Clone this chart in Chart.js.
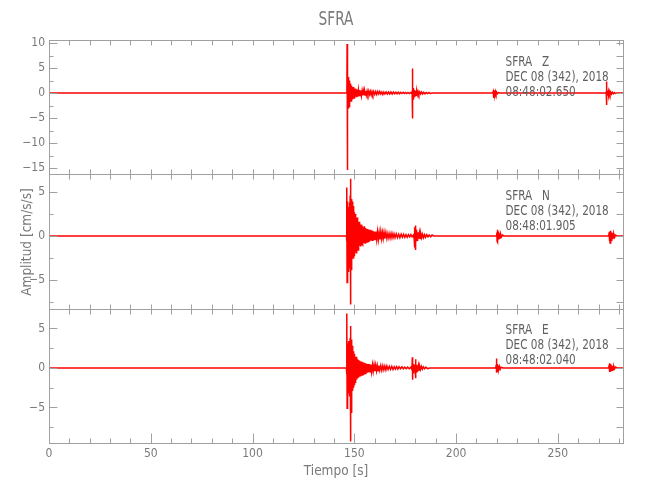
<!DOCTYPE html>
<html>
<head>
<meta charset="utf-8">
<script src="https://cdn.jsdelivr.net/npm/chart.js@4/dist/chart.umd.min.js"></script>
<style>
  body { margin: 0; background: #fff; }
  #wrap { width: 650px; height: 500px; }
</style>
</head>
<body>
<div id="wrap"><canvas id="grafica" width="650" height="500"></canvas></div>
<script>
// trazas: [tiempo (s), amplitud (cm/s/s)]
const traceZ = [
  [0,0],[146.2,0],[146.35,0.3],[146.45,9.8],[146.5,-15.4],[146.58,3.1],[146.66,-2.2],[146.74,2.6],[146.82,-3.4],
  [146.9,3.2],[146.98,-2.8],[147.06,2.4],[147.14,-3.1],[147.22,2.9],[147.3,-2.5],[147.38,2.2],[147.46,-2.7],
  [147.54,2.5],[147.62,-2.0],[147.7,1.9],[147.8,-2.2],[147.9,1.8],[148.0,-1.7],[148.1,1.9],[148.2,-1.5],
  [148.3,1.6],[148.4,-1.6],[148.5,1.4],[148.6,-1.3],[148.7,1.5],[148.8,-1.2],[148.9,1.2],[149.0,-1.3],
  [149.15,1.1],[149.3,-1.0],[149.45,1.2],[149.6,-1.0],[149.75,0.9],[149.9,-1.0],[150.05,0.9],[150.2,-0.8],
  [150.4,0.9],[150.6,-0.7],[150.8,0.8],[151.0,-0.7],[151.2,0.7],[151.4,-0.6],[151.6,0.7],[151.8,-0.6],
  [152.0,0.6],[152.3,-0.5],[152.6,0.6],[152.9,-0.5],[153.2,0.5],[153.5,-0.5],[153.8,0.4],[154.1,-0.5],
  [154.4,0.4],[154.7,-0.4],[155.0,0.5],[155.3,-0.4],[155.6,0.4],[155.9,-0.4],[156.3,0.4],[156.7,-0.3],
  [157.1,0.4],[157.5,-0.3],[157.9,0.3],[158.3,-0.4],[158.7,0.3],[159.1,-0.3],[159.5,0.3],[160,-0.3],
  [160.5,0.3],[161,-0.3],[161.5,0.3],[162,-0.2],[162.5,0.3],[163,-0.2],[163.5,0.2],[164,-0.3],[164.5,0.2],
  [165,-0.2],[165.6,0.2],[166.2,-0.2],[166.8,0.2],[167.4,-0.2],[168,0.2],[168.6,-0.2],[169.2,0.2],
  [169.8,-0.15],[170.4,0.15],[171,-0.15],[171.6,0.15],[172.2,-0.15],[172.8,0.15],[173.4,-0.1],[174,0.15],
  [174.6,-0.1],[175.2,0.1],[175.8,-0.1],[176.4,0.1],[177,-0.1],[177.8,0.1],[178.2,-0.1],[178.4,0.2],
  [178.5,-0.3],[178.57,4.9],[178.65,-5.1],[178.75,0.9],[178.85,-1.2],[178.95,1.0],[179.05,-0.9],[179.2,0.8],
  [179.35,-0.7],[179.5,0.6],[179.65,-0.6],[179.8,0.5],[180.0,-0.5],[180.2,0.4],[180.4,-0.4],[180.7,0.3],
  [181.0,-0.3],[181.3,0.3],[181.7,-0.3],[182.1,0.2],[182.5,-0.2],[183.0,0.2],[183.5,-0.2],[184.1,0.15],
  [184.7,-0.15],[185.3,0.1],[186.0,-0.1],[186.7,0.1],[187.4,-0.1],[188.5,0],
  [218.0,0],[218.25,0.3],[218.4,0.6],[218.5,-1.0],[218.6,0.5],[218.75,-0.5],[218.9,0.4],[219.1,-0.3],
  [219.3,0.3],[219.6,-0.2],[219.9,0.2],[220.3,-0.15],[220.8,0.1],[221.5,0],
  [273.5,0],[273.75,0.2],[273.85,2.3],[273.95,-2.4],[274.1,0.5],[274.25,-0.4],[274.4,0.4],[274.6,-0.4],
  [274.8,0.3],[275.0,-0.3],[275.3,0.3],[275.6,-0.25],[275.9,0.2],[276.3,-0.2],[276.7,0.15],[277.2,-0.15],
  [277.7,0.1],[278.3,-0.1],[279,0],[282,0]
];
const traceN = [
  [0,0],[146.1,0],[146.2,0.4],[146.3,-0.6],[146.38,5.5],[146.45,-5.3],[146.55,2.8],[146.65,-3.4],[146.75,3.9],
  [146.85,-2.6],[146.95,3.1],[147.05,-4.1],[147.15,2.4],[147.25,-2.9],[147.35,3.3],[147.45,-3.6],[147.55,2.6],
  [147.65,-2.3],[147.75,3.8],[147.85,-3.1],[147.95,4.6],[148.05,-4.4],[148.15,6.5],[148.25,-7.8],[148.35,4.9],
  [148.45,-3.8],[148.55,4.2],[148.65,-3.3],[148.75,3.6],[148.85,-2.9],[148.95,3.9],[149.05,-2.6],[149.15,3.2],
  [149.25,-2.2],[149.35,3.0],[149.45,-2.5],[149.55,2.6],[149.65,-2.0],[149.75,3.4],[149.85,-1.9],[149.95,2.7],
  [150.05,-2.3],[150.2,2.3],[150.35,-1.8],[150.5,2.5],[150.65,-1.6],[150.8,2.0],[150.95,-1.9],[151.1,1.8],
  [151.25,-1.5],[151.4,2.1],[151.55,-1.4],[151.7,1.7],[151.85,-1.6],[152.0,1.5],[152.2,-1.2],[152.4,1.6],
  [152.6,-1.1],[152.8,1.3],[153.0,-1.2],[153.2,1.2],[153.4,-1.0],[153.6,1.3],[153.8,-0.9],[154.0,1.1],
  [154.25,-1.0],[154.5,1.0],[154.75,-0.8],[155.0,1.1],[155.25,-0.8],[155.5,0.9],[155.75,-0.7],[156.0,0.8],
  [156.3,-0.7],[156.6,0.8],[156.9,-0.6],[157.2,0.7],[157.5,-0.6],[157.8,0.7],[158.1,-0.5],[158.4,0.6],
  [158.7,-0.5],[159.0,0.6],[159.4,-0.5],[159.8,0.5],[160.2,-0.4],[160.6,0.5],[161.0,-0.4],[161.4,0.5],
  [161.8,-0.4],[162.2,0.4],[162.6,-0.4],[163.0,0.5],[163.4,-0.3],[163.8,0.4],[164.2,-0.3],[164.6,0.4],
  [165.0,-0.3],[165.5,0.4],[166.0,-0.3],[166.5,0.3],[167.0,-0.25],[167.5,0.3],[168.0,-0.25],[168.5,0.3],
  [169.0,-0.2],[169.5,0.25],[170.0,-0.2],[170.6,0.25],[171.2,-0.2],[171.8,0.2],[172.4,-0.2],[173.0,0.2],
  [173.6,-0.15],[174.2,0.2],[174.8,-0.15],[175.4,0.15],[176.0,-0.15],[176.6,0.15],[177.2,-0.1],[177.8,0.15],
  [178.4,-0.1],[179.0,0.1],[179.4,-0.3],[179.55,1.0],[179.65,-1.3],[179.75,0.8],[179.85,-0.9],[179.95,1.2],
  [180.05,-1.6],[180.15,1.1],[180.25,-0.8],[180.35,0.7],[180.5,-0.6],[180.65,0.6],[180.8,-0.5],[181.0,0.4],
  [181.2,-0.4],[181.45,0.4],[181.7,-0.3],[182.0,0.3],[182.3,-0.3],[182.7,0.25],[183.1,-0.2],[183.5,0.2],
  [184.0,-0.2],[184.5,0.15],[185.0,-0.15],[185.6,0.15],[186.2,-0.1],[186.8,0.1],[187.5,-0.1],[188.2,0.1],[189,0],
  [219.8,0],[220.0,0.4],[220.15,-0.6],[220.3,0.7],[220.45,-0.7],[220.6,0.5],[220.75,-0.4],[220.9,0.4],
  [221.1,-0.3],[221.3,0.3],[221.6,-0.2],[221.9,0.2],[222.3,-0.1],[222.8,0.1],[223.5,0],
  [275.0,0],[275.2,0.4],[275.35,-0.6],[275.5,0.5],[275.65,-0.8],[275.8,0.6],[275.95,-0.5],[276.1,0.4],
  [276.3,-0.5],[276.5,0.4],[276.7,-0.3],[276.9,0.3],[277.2,-0.2],[277.5,0.2],[277.9,-0.15],[278.3,0.1],[279,0],[282,0]
];
const traceE = [
  [0,0],[146.1,0],[146.2,0.5],[146.3,-0.8],[146.4,6.9],[146.47,-5.1],[146.55,2.4],[146.65,-3.5],[146.75,3.1],
  [146.85,-2.7],[146.95,2.2],[147.05,-3.2],[147.15,2.9],[147.25,-2.4],[147.35,3.4],[147.45,-2.8],[147.55,2.5],
  [147.65,-3.6],[147.75,2.7],[147.85,-3.0],[147.95,3.8],[148.05,-4.2],[148.15,5.3],[148.25,-9.3],[148.35,4.4],
  [148.45,-5.6],[148.55,3.6],[148.65,-3.9],[148.75,3.0],[148.85,-3.1],[148.95,2.8],[149.05,-2.9],[149.15,2.6],
  [149.25,-2.7],[149.35,2.3],[149.45,-2.4],[149.55,2.1],[149.65,-2.3],[149.75,1.9],[149.85,-2.1],[149.95,1.8],
  [150.1,-1.9],[150.25,1.6],[150.4,-1.8],[150.55,1.4],[150.7,-1.7],[150.85,1.4],[151.0,-1.5],[151.15,1.2],
  [151.3,-1.4],[151.5,1.1],[151.7,-1.3],[151.9,1.0],[152.1,-1.2],[152.3,0.9],[152.5,-1.1],[152.7,0.9],
  [152.9,-1.0],[153.1,0.8],[153.35,-0.9],[153.6,0.8],[153.85,-0.9],[154.1,0.7],[154.35,-0.8],[154.6,0.7],
  [154.85,-0.7],[155.1,0.6],[155.4,-0.7],[155.7,0.6],[156.0,-0.6],[156.3,0.5],[156.6,-0.6],[156.9,0.5],
  [157.2,-0.5],[157.5,0.5],[157.8,-0.5],[158.1,0.4],[158.5,-0.5],[158.9,0.4],[159.3,-0.4],[159.7,0.4],
  [160.1,-0.4],[160.5,0.35],[160.9,-0.35],[161.3,0.3],[161.7,-0.35],[162.1,0.3],[162.5,-0.3],[163.0,0.3],
  [163.5,-0.3],[164.0,0.3],[164.5,-0.25],[165.0,0.25],[165.5,-0.25],[166.0,0.25],[166.6,-0.2],[167.2,0.2],
  [167.8,-0.2],[168.4,0.2],[169.0,-0.2],[169.6,0.15],[170.2,-0.15],[170.8,0.15],[171.4,-0.15],[172.0,0.15],
  [172.7,-0.1],[173.4,0.15],[174.1,-0.1],[174.8,0.1],[175.5,-0.1],[176.2,0.1],[177.0,-0.1],[177.8,0.1],
  [178.3,-0.2],[178.5,1.35],[178.6,-1.5],[178.7,0.7],[178.85,-0.6],[179.0,0.5],[179.15,-0.5],[179.3,0.4],
  [179.5,-0.4],[179.7,0.4],[179.9,-0.3],[180.05,1.1],[180.15,-1.3],[180.3,0.6],[180.45,-0.5],[180.6,0.4],
  [180.8,-0.4],[181.0,0.3],[181.25,-0.3],[181.5,0.3],[181.8,-0.25],[182.1,0.2],[182.5,-0.2],[182.9,0.2],
  [183.4,-0.15],[183.9,0.15],[184.5,-0.1],[185.2,0.1],[186,-0.1],[187,0],
  [219.5,0],[219.7,0.4],[219.85,1.2],[219.95,-0.6],[220.1,0.5],[220.25,-0.5],[220.4,0.4],[220.6,-0.3],
  [220.8,0.3],[221.05,-0.2],[221.3,0.2],[221.7,-0.15],[222.1,0.1],[223,0],
  [275.0,0],[275.2,0.4],[275.35,-0.5],[275.5,0.6],[275.65,-0.4],[275.8,0.5],[275.95,-0.4],[276.1,0.4],
  [276.3,-0.3],[276.5,0.3],[276.7,-0.3],[276.9,0.25],[277.2,-0.2],[277.5,0.2],[277.9,-0.1],[278.4,0.1],[279,0],[282,0]
];

const componentes = ['Z', 'N', 'E'];
const rangoZ = [-16.26, 10.6];
const rangoN = [-8.26, 7.0];
const rangoE = [-9.5, 7.5];
const rangoTiempo = [0, 282];
const horaInicio = ['08:48:02.650', '08:48:01.905', '08:48:02.040'];
const fecha = 'DEC 08 (342), 2018';
const estacion = 'SFRA';

const fuente = "'Liberation Sans Narrow', 'DejaVu Sans Condensed', sans-serif";
const gris = '#7a7a7a';
const grisEje = '#a0a0a0';

const trazas = [traceZ, traceN, traceE];
const rangos = [rangoZ, rangoN, rangoE];
const ejesY = ['yZ', 'yN', 'yE'];

const datasets = trazas.map(function (tr, i) {
    return {
        label: estacion + ' ' + componentes[i],
        data: tr.map(p => ({x: p[0], y: p[1]})),
        yAxisID: ejesY[i],
        borderColor: '#ff0000',
        borderWidth: 1.5,
        pointRadius: 0,
        tension: 0,
    };
});

function ejeY(i) {
    return {
        type: 'linear',
        position: 'left',
        stack: 'paneles',
        stackWeight: 1,
        min: rangos[i][0],
        max: rangos[i][1],
        grid: { display: false, drawTicks: false },
        border: { display: false },
        ticks: {
            stepSize: 5,
            autoSkip: false,
            includeBounds: false,
            color: gris,
            padding: 4,
            font: { family: fuente, size: 12 },
            callback: v => v < 0 ? '\u2212' + Math.abs(v) : String(v),
        },
        afterFit: s => { s.width = 49; },
    };
}

// ejes: el ultimo definido queda arriba en la pila
const escalas = {
    x: {
        type: 'linear',
        min: rangoTiempo[0],
        max: rangoTiempo[1],
        grid: { display: false, drawTicks: false },
        border: { display: false },
        ticks: {
            stepSize: 50, autoSkip: false, includeBounds: false, color: gris, padding: 4,
            maxRotation: 0, font: { family: fuente, size: 12 }
        },
        afterFit: s => { s.height = 57; },
    },
    yE: ejeY(2),
    yN: ejeY(1),
    yZ: ejeY(0),
};

function textoEstrecho(ctx, txt, x, y, k) {
    ctx.save();
    ctx.translate(x, y);
    ctx.scale(k, 1);
    ctx.fillText(txt, 0, 0);
    ctx.restore();
}

const marco = {
    id: 'marco',
    afterDatasetsDraw(chart) {
        const ctx = chart.ctx;
        const sx = chart.scales.x;
        const area = chart.chartArea;
        ctx.save();
        ctx.strokeStyle = grisEje;
        ctx.lineWidth = 1;
        ejesY.forEach(function (id, p) {
            const s = chart.scales[id];
            const top = Math.round(s.top) + 0.5;
            const bottom = Math.round(s.bottom) + 0.5;
            const left = Math.round(area.left) + 0.5;
            const right = Math.round(area.right) + 0.5;
            ctx.strokeRect(left, top, right - left, bottom - top);
            ctx.beginPath();
            for (let t = rangoTiempo[0]; t <= rangoTiempo[1]; t += 10) {
                const px = Math.round(sx.getPixelForValue(t)) + 0.5;
                const mayor = t % 50 === 0;
                const lb = (p === 2 && mayor) ? 10 : 5;
                ctx.moveTo(px, bottom); ctx.lineTo(px, bottom - lb);
                ctx.moveTo(px, top); ctx.lineTo(px, top + 5);
            }
            for (let v = Math.ceil(s.min / 2.5) * 2.5; v <= s.max; v += 2.5) {
                const py = Math.round(s.getPixelForValue(v)) + 0.5;
                const len = (v % 5 === 0) ? 8 : 4;
                ctx.moveTo(left, py); ctx.lineTo(left + len, py);
                ctx.moveTo(right, py); ctx.lineTo(right - 7, py);
            }
            ctx.stroke();

            // rotulos de cada componente
            ctx.fillStyle = '#606060';
            ctx.font = '13.5px ' + fuente;
            ctx.textBaseline = 'middle';
            ctx.textAlign = 'left';
            const tx = sx.getPixelForValue(224.3);
            textoEstrecho(ctx, estacion + '   ' + componentes[p], tx, s.top + 22, 0.86);
            textoEstrecho(ctx, fecha, tx, s.top + 37, 0.86);
            textoEstrecho(ctx, horaInicio[p], tx, s.top + 52, 0.86);
        });

        // titulos
        const cx = (area.left + area.right) / 2;
        ctx.fillStyle = gris;
        ctx.textAlign = 'center';
        ctx.textBaseline = 'middle';
        ctx.font = '19px ' + fuente;
        textoEstrecho(ctx, estacion, cx, 20, 0.8);

        ctx.font = '13.5px ' + fuente;
        ctx.fillText('Tiempo [s]', cx, 471);
        ctx.save();
        ctx.translate(27, 242);
        ctx.rotate(-Math.PI / 2);
        ctx.fillText('Amplitud [cm/s/s]', 0, 0);
        ctx.restore();
        ctx.restore();
    }
};

new Chart(document.getElementById('grafica'), {
    type: 'line',
    data: { datasets: datasets },
    options: {
        responsive: false,
        animation: false,
        layout: { padding: { left: 0, right: 27, top: 40, bottom: 0 } },
        plugins: { legend: { display: false }, tooltip: { enabled: false } },
        scales: escalas,
    },
    plugins: [marco],
});
</script>
</body>
</html>
